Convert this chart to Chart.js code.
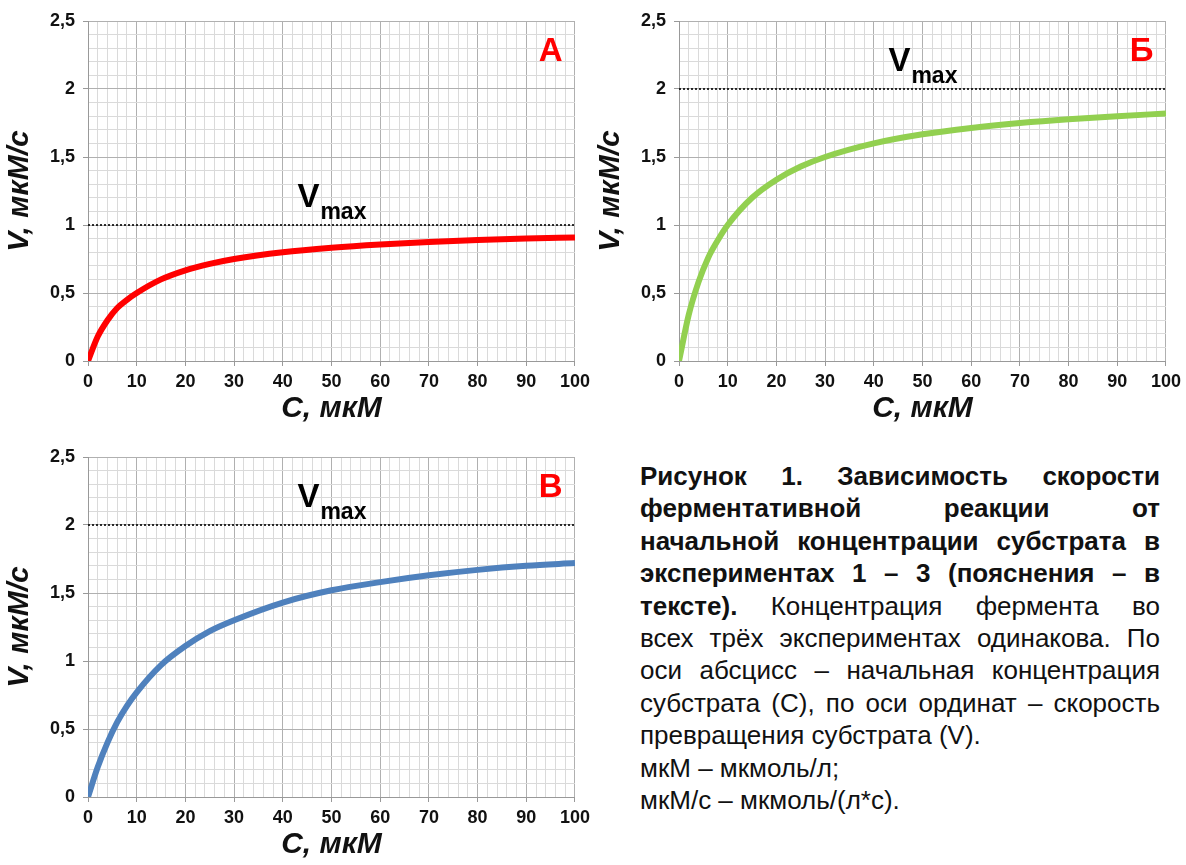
<!DOCTYPE html>
<html>
<head>
<meta charset="utf-8">
<script src="https://cdn.jsdelivr.net/npm/chart.js@4.4.1/dist/chart.umd.min.js"></script>
<style>
  body { margin: 0; background: #fff; width: 1186px; height: 865px; overflow: hidden; position: relative; font-family: "Liberation Sans", Arial, sans-serif; }
  .box { position: absolute; }
  .txt { position: absolute; left: 640px; top: 460px; width: 520px; font-size: 26px; line-height: 32.4px; color: #111; }
  .txt .j { text-align: justify; text-align-last: justify; }
</style>
</head>
<body>
<div class="box" style="left:0;top:0;width:595px;height:432px"><canvas id="grA"></canvas></div>
<div class="box" style="left:591px;top:0;width:595px;height:432px"><canvas id="grB"></canvas></div>
<div class="box" style="left:0;top:436px;width:595px;height:432px"><canvas id="grV"></canvas></div>

<div class="txt">
  <div class="j"><b>Рисунок 1. Зависимость скорости</b></div>
  <div class="j"><b>ферментативной реакции от</b></div>
  <div class="j"><b>начальной концентрации субстрата в</b></div>
  <div class="j"><b>экспериментах 1 – 3 (пояснения – в</b></div>
  <div class="j"><b>тексте).</b> Концентрация фермента во</div>
  <div class="j">всех трёх экспериментах одинакова. По</div>
  <div class="j">оси абсцисс – начальная концентрация</div>
  <div class="j">субстрата (С), по оси ординат – скорость</div>
  <div>превращения субстрата (V).</div>
  <div>мкМ – мкмоль/л;</div>
  <div>мкМ/с – мкмоль/(л*с).</div>
</div>

<script>
// концентрация субстрата, мкМ
const konsentrasi = [0, 2, 4, 6, 8, 10, 15, 20, 25, 30, 40, 50, 60, 70, 80, 90, 100];
// скорость V, мкМ/с
const kecepatanA = [0, 0.18, 0.30, 0.39, 0.45, 0.50, 0.60, 0.667, 0.714, 0.75, 0.80, 0.833, 0.857, 0.875, 0.889, 0.90, 0.909];
const kecepatanB = [0, 0.34, 0.58, 0.76, 0.89, 1.00, 1.20, 1.333, 1.43, 1.50, 1.60, 1.667, 1.714, 1.75, 1.778, 1.80, 1.82];
const kecepatanV = [0, 0.22, 0.40, 0.55, 0.67, 0.77, 0.97, 1.11, 1.22, 1.30, 1.43, 1.52, 1.58, 1.63, 1.67, 1.70, 1.72];
const vmaxA = 1, vmaxB = 2, vmaxV = 2;
const hurufGrafik = ['А', 'Б', 'В'];
const judulX = 'C, мкМ';
const judulY = 'V, мкМ/с';

const fontUtama = '"Liberation Sans", Arial, sans-serif';

function gambarTeks(chart) {
    const o = chart.options.plugins.teks;
    const ctx = chart.ctx;
    const sx = chart.scales.x, sy = chart.scales.y;
    ctx.save();
    // huruf merah
    ctx.fillStyle = '#ff0000';
    ctx.font = 'bold 33px ' + fontUtama;
    ctx.textAlign = 'center';
    ctx.textBaseline = 'alphabetic';
    ctx.fillText(o.huruf, sx.getPixelForValue(95), chart.chartArea.top + 40);
    // V max
    const garis = sy.getPixelForValue(o.vmax);
    const xv = sx.getPixelForValue(43);
    ctx.fillStyle = '#000';
    ctx.textAlign = 'left';
    ctx.font = 'bold 33px ' + fontUtama;
    ctx.fillText('V', xv, garis - 18);
    const lebar = ctx.measureText('V').width;
    ctx.font = 'bold 23px ' + fontUtama;
    ctx.fillText('max', xv + lebar + 1, garis - 6);
    ctx.restore();
}

function buatGrafik(id, nilai, warna, vmax, huruf) {
    return new Chart(document.getElementById(id), {
        type: 'scatter',
        data: {
            datasets: [{
                data: [{x: 0, y: vmax}, {x: 100, y: vmax}],
                showLine: true,
                borderColor: '#000',
                borderWidth: 1.6,
                borderDash: [2, 2],
                pointRadius: 0
            }, {
                data: konsentrasi.map((c, i) => ({x: c, y: nilai[i]})),
                showLine: true,
                borderColor: warna,
                borderWidth: 6,
                cubicInterpolationMode: 'monotone',
                pointRadius: 0
            }]
        },
        options: {
            responsive: false,
            animation: false,
            events: [],
            layout: { padding: { top: 21, right: 18, left: 0, bottom: 0 } },
            plugins: { legend: { display: false }, tooltip: { enabled: false }, teks: { huruf: huruf, vmax: vmax } },
            scales: {
                x: {
                    type: 'linear', min: 0, max: 100,
                    afterFit: s => { s.height = 71; },
                    ticks: {
                        stepSize: 2, autoSkip: false, maxRotation: 0, padding: 5,
                        color: '#111', font: { family: fontUtama, size: 18, weight: 'bold' },
                        callback: v => (v % 10 === 0 ? String(v) : '')
                    },
                    grid: {
                        tickLength: 5,
                        color: c => (c.tick && c.tick.value % 10 === 0 ? '#b0b0b0' : '#dadada'),
                        tickColor: c => (c.tick && c.tick.value % 10 === 0 ? '#999' : 'rgba(0,0,0,0)')
                    },
                    border: { color: '#999' },
                    title: { display: true, text: judulX, color: '#111', padding: { top: 0, bottom: 5 }, font: { family: fontUtama, size: 30, weight: 'bold', style: 'italic' } }
                },
                y: {
                    type: 'linear', min: 0, max: 2.5,
                    afterFit: s => { s.width = 88; },
                    ticks: {
                        stepSize: 0.1, autoSkip: false, padding: 8,
                        color: '#111', font: { family: fontUtama, size: 18, weight: 'bold' },
                        callback: v => (Math.round(v * 10) % 5 === 0 ? String(Math.round(v * 10) / 10).replace('.', ',') : '')
                    },
                    grid: {
                        tickLength: 5,
                        color: c => (c.tick && Math.round(c.tick.value * 10) % 5 === 0 ? '#b0b0b0' : '#dadada'),
                        tickColor: c => (c.tick && Math.round(c.tick.value * 10) % 5 === 0 ? '#999' : 'rgba(0,0,0,0)')
                    },
                    border: { color: '#999' },
                    title: { display: true, text: judulY, color: '#111', padding: { top: 2, bottom: 0 }, font: { family: fontUtama, size: 30, weight: 'bold', style: 'italic' } }
                }
            }
        },
        plugins: [{ id: 'teks', afterDatasetsDraw: gambarTeks }]
    });
}

document.getElementById('grA').width = 595; document.getElementById('grA').height = 432;
document.getElementById('grB').width = 595; document.getElementById('grB').height = 432;
document.getElementById('grV').width = 595; document.getElementById('grV').height = 432;

buatGrafik('grA', kecepatanA, '#ff0000', vmaxA, hurufGrafik[0]);
buatGrafik('grB', kecepatanB, '#92d050', vmaxB, hurufGrafik[1]);
buatGrafik('grV', kecepatanV, '#4f81bd', vmaxV, hurufGrafik[2]);
</script>
</body>
</html>
